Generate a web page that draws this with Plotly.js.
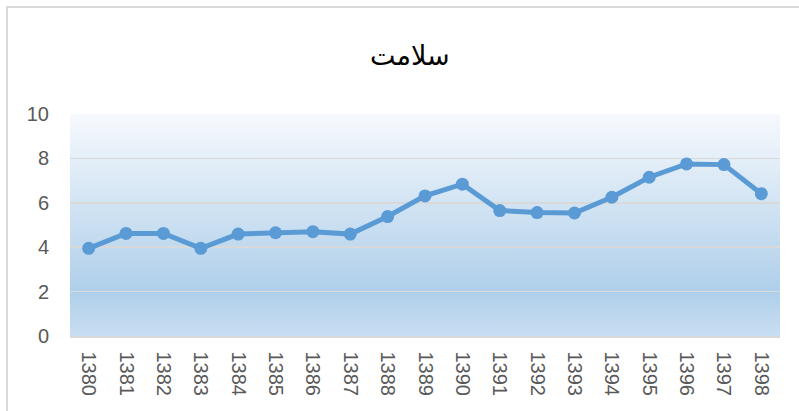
<!DOCTYPE html>
<html>
<head>
<meta charset="utf-8">
<script src="https://cdn.plot.ly/plotly-3.0.1.min.js"></script>
<style>html,body{margin:0;padding:0;background:#fff;}#chart{width:799px;height:411px;}</style>
</head>
<body>
<div id="chart"></div>
<script>
var years = ["1380","1381","1382","1383","1384","1385","1386","1387","1388","1389","1390","1391","1392","1393","1394","1395","1396","1397","1398"];
var values = [3.95,4.62,4.62,3.95,4.59,4.65,4.70,4.59,5.38,6.31,6.84,5.65,5.56,5.54,6.25,7.15,7.75,7.72,6.41];
var chartTitle = "سلامت";

var svg = '<svg xmlns="http://www.w3.org/2000/svg" width="100" height="100" preserveAspectRatio="none">' +
  '<defs><linearGradient id="g" x1="0" y1="0" x2="0" y2="1">' +
  '<stop offset="0" stop-color="#f6f9fd"/>' +
  '<stop offset="0.8" stop-color="#afcfea"/>' +
  '<stop offset="1" stop-color="#c8def2"/>' +
  '</linearGradient></defs><rect width="100" height="100" fill="url(#g)"/></svg>';
var bgSrc = 'data:image/svg+xml;charset=utf-8,' + encodeURIComponent(svg);

var trace = {
  x: years, y: values, type: 'scatter', mode: 'lines+markers',
  line: {color: '#5b9bd5', width: 5},
  marker: {color: '#5b9bd5', size: 13},
  hoverinfo: 'x+y'
};

var tf = {family: 'Liberation Sans, Arial, sans-serif', size: 20, color: '#595959'};

var layout = {
  width: 799, height: 411,
  margin: {l: 70, r: 19, t: 114, b: 75},
  paper_bgcolor: '#ffffff',
  plot_bgcolor: 'rgba(0,0,0,0)',
  showlegend: false,
  title: {text: chartTitle, x: 0.513, xanchor: 'center', y: 0.865, yanchor: 'middle',
          font: {family: 'DejaVu Sans, Noto Sans, sans-serif', size: 27, color: '#000000'}},
  xaxis: {
    type: 'category', range: [-0.5, 18.5], tickangle: 90,
    showgrid: false, zeroline: false, showline: true, linecolor: '#d9d9d9', linewidth: 1.5,
    ticks: '', ticklabelstandoff: 10,
    tickfont: tf
  },
  yaxis: {
    range: [0, 10], dtick: 2, tick0: 0,
    showgrid: true, gridcolor: '#d9d9d9', gridwidth: 1.5, zeroline: false, showline: false,
    ticks: '', ticklabelstandoff: 20,
    tickfont: tf
  },
  images: [{source: bgSrc, xref: 'paper', yref: 'paper', x: 0, y: 1, sizex: 1, sizey: 1,
            xanchor: 'left', yanchor: 'top', sizing: 'stretch', layer: 'below'}],
  shapes: [{type: 'rect', xref: 'paper', yref: 'paper', x0: -0.0887, y0: -0.4, x1: 1.05, y1: 1.482,
            line: {color: '#d9d9d9', width: 2}, fillcolor: 'rgba(0,0,0,0)', layer: 'below'}]
};

Plotly.newPlot('chart', [trace], layout, {displayModeBar: false, staticPlot: true});
</script>
</body>
</html>
